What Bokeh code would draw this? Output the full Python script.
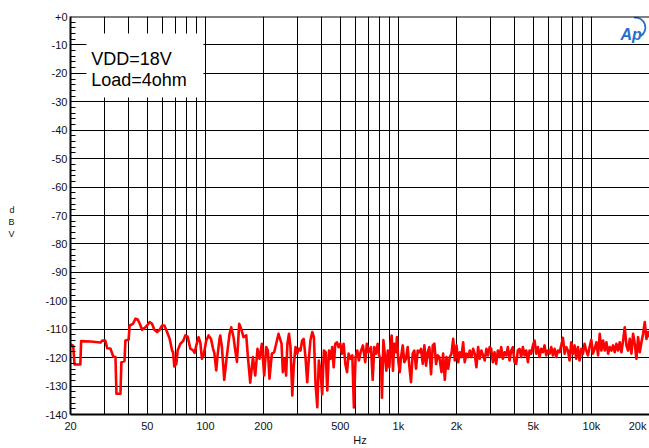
from bokeh.plotting import figure
from bokeh.models import FixedTicker, BoxAnnotation, Label, Span, Range1d
from bokeh.embed import file_html
from bokeh.resources import INLINE

# ---------------- data ----------------
freq_hz = [
    20.0, 20.65, 20.98, 22.5, 22.7, 25.4, 28.6, 29.2, 30.3, 31.0, 32.2, 33.3, 34.2, 34.6, 36.3,
    36.7, 38.1, 38.5, 40.0, 40.5, 42.2, 43.4, 44.6, 45.7, 47.0, 48.3, 49.9, 51.4, 52.9, 54.4,
    56.2, 57.9, 59.6, 61.3, 63.3, 65.3, 67.2, 68.0, 69.0, 70.7, 71.8, 74.2, 76.6, 78.7, 80.9,
    83.5, 86.3, 87.9, 89.7, 92.2, 94.1, 96.0, 97.9, 101.0, 103.9, 106.9, 109.5, 111.2, 113.8,
    115.6, 118.4,
    119.4, 121.8, 125.2, 129.3, 133.4, 136.1, 139.9, 142.8, 145.7, 149.7, 153.3, 157.6, 162.8,
    166.1, 170.7, 176.3, 181.2, 186.2, 190.7, 196.2, 201.7, 206.5, 210.8, 214.8, 221.0, 227.2,
    232.7, 239.2,
    248, 252, 258, 262, 266, 271, 276, 282, 287, 293, 299, 305, 311, 317, 323, 330, 337, 343,
    350, 358, 365, 372, 380, 387, 395, 403, 411, 420, 428, 437, 445, 454, 462, 471, 481, 490,
    500, 510, 520, 531, 542, 552, 565, 577, 588, 600, 612, 624, 637, 655, 673, 686, 700, 721,
    736, 750, 766, 781, 795, 812, 822, 836, 852, 866, 881, 898, 910, 923, 937, 952, 972, 983,
    1000, 1016, 1032, 1053, 1073, 1095, 1117, 1139, 1162, 1186, 1209, 1234, 1259, 1284, 1310,
    1337, 1363, 1391, 1419, 1447, 1476, 1507, 1536, 1567, 1599, 1630, 1672, 1705, 1739, 1774,
    1811, 1846, 1884, 1922, 1960, 2000, 2041, 2079, 2122, 2165, 2206, 2252, 2298, 2342, 2390,
    2439, 2485, 2536, 2588, 2638, 2692, 2747, 2800, 2857, 2915, 2971,
    3025, 3086, 3148, 3211, 3276, 3342, 3409, 3477, 3547, 3618, 3691, 3765, 3841, 3918, 3997,
    4077, 4159, 4243, 4328, 4415, 4504, 4595, 4687, 4781, 4877, 4975, 5075, 5177, 5281, 5387,
    5496, 5606, 5719, 5834, 5951, 6071, 6193, 6317, 6444, 6574, 6706, 6841, 6978, 7119, 7262,
    7408, 7556, 7708, 7863, 8021, 8182, 8347, 8515, 8686, 8860, 9038, 9220, 9405, 9594, 9787,
    9984, 10184, 10389,
    10614, 10827, 11045, 11267, 11494, 11725, 11961, 12201, 12446, 12696, 12951, 13211, 13477,
    13748, 14024, 14306, 14593, 14886, 15185, 15490, 15801, 16119, 16443, 16773, 17110, 17454,
    17805, 18163, 18528, 18900, 19280, 19667, 20000,
]

level_dbv = [
    -115.4, -115.8, -122.4, -122.4, -114.2, -114.3, -114.7, -114.0, -114.0, -116.7, -116.8, -119.6, -119.8, -132.7, -132.7,
    -121.6, -121.2, -114.0, -113.7, -108.7, -108.1, -106.3, -106.6, -108.1, -110.2, -109.6, -108.7, -107.5, -108.1, -110.2,
    -111.0, -110.2, -108.7, -108.7, -111.0, -113.4, -117.5, -118.1, -123.1, -122.2, -117.5, -115.1, -114.2, -112.2, -112.6,
    -116.8, -117.4, -118.3, -115.7, -112.8, -114.6, -120.4, -119.2, -114.0, -112.2, -113.4, -116.8, -118.3, -124.5,
    -119.2, -113.4,
    -112.2, -116.3, -127.8, -119.2, -111.6, -109.3, -112.8, -117.5, -121.5, -108.1, -109.9, -112.8, -112.2,
    -119.8, -128.8, -119.8, -126.3, -116.9, -120.4, -115.1, -126.3, -116.3, -117.5, -127.4, -118.6, -118.1,
    -115.1, -111.6,
    -115.1, -125.1, -120.4, -126.3, -115.1, -111.6, -116.3, -133.3, -122.8, -116.3, -118.6, -116.9, -117.5, -114.0, -113.4, -119.8, -128.6, -121.0,
    -114.0, -111.0, -112.8, -129.1, -137.4, -121.0, -125.1, -132.9, -117.5, -118.1, -131.5, -117.5, -120.4, -116.3, -123.4, -115.1, -114.6, -116.3,
    -115.1, -118.6, -115.1, -122.2, -125.1, -118.6, -120.4, -119.2, -137.5, -119.8, -117.5, -121.0, -118.1, -115.7, -121.6, -115.1, -118.1, -116.3,
    -127.8, -116.3, -118.6, -115.1, -119.2, -121.0, -134.1, -113.8, -119.5, -124.6, -117.5, -123.4, -115.1, -112.2, -124.6, -115.1, -118.1, -112.8,
    -121.6, -125.1, -119.8, -115.7, -121.6, -120.4, -116.3, -122.8, -128.6, -118.6, -117.5, -123.9, -117.5, -118.1, -116.9,
    -122.2, -115.7, -122.8, -118.1, -116.3, -125.8, -115.7, -115.1, -122.2, -119.2, -119.8, -125.1, -118.6, -127.8, -119.8,
    -123.9, -119.8, -118.6, -113.4, -121.0, -115.7, -121.6, -118.1, -119.8, -114.6, -121.6, -118.6, -119.8, -117.5, -119.8,
    -116.9, -118.6, -123.4, -116.3, -120.4, -117.5, -119.2, -121.0, -116.9, -119.2, -116.3,
    -116.9, -121.6, -118.1, -122.2, -117.5, -119.8, -116.3, -120.4, -118.1, -119.2, -116.3, -121.0, -117.5, -116.3, -121.6,
    -122.2, -117.5, -116.9, -119.8, -116.3, -119.2, -117.5, -121.6, -117.5, -118.6, -115.7, -114.0, -118.6, -116.3, -119.8,
    -116.9, -118.1, -115.7, -119.2, -117.5, -118.6, -116.3, -119.2, -116.9, -119.8, -117.5, -118.1, -115.7, -113.0, -118.6,
    -116.3, -117.5, -121.0, -114.6, -118.6, -115.7, -120.4, -116.3, -121.0, -116.9, -118.6, -115.1, -117.5, -119.2, -116.3,
    -113.7, -118.6, -116.9,
    -114.6, -119.2, -111.6, -117.5, -114.0, -117.5, -114.6, -118.6, -116.3, -117.5, -115.7, -118.1, -115.1,
    -117.5, -114.6, -118.1, -114.0, -109.3, -115.7, -117.5, -113.4, -118.6, -111.6, -115.1, -120.4, -112.8,
    -118.1, -114.6, -111.6, -107.5, -113.4, -111.0, -112.8,
]

y_ticks = [0, -10, -20, -30, -40, -50, -60, -70, -80, -90, -100, -110, -120, -130, -140]
y_tick_labels = ["+0", "-10", "-20", "-30", "-40", "-50", "-60", "-70", "-80", "-90",
                 "-100", "-110", "-120", "-130", "-140"]
x_grid = [20, 30, 40, 50, 60, 70, 80, 90, 100, 200, 300, 400, 500, 600, 700, 800, 900,
          1000, 2000, 3000, 4000, 5000, 6000, 7000, 8000, 9000, 10000, 20000]
x_tick_values = [20, 50, 100, 200, 500, 1000, 2000, 5000, 10000, 20000]
x_tick_labels = ["20", "50", "100", "200", "500", "1k", "2k", "5k", "10k", "20k"]
annot_lines = ["VDD=18V", "Load=4ohm"]
x_title = "Hz"
y_title = "\nd\nB\nV"

FONT = "Liberation Sans"

p = figure(width=649, height=448, x_axis_type="log",
           x_range=Range1d(20, 20000), y_range=Range1d(-140, 0),
           output_backend="svg", toolbar_location=None,
           min_border_left=70, min_border_right=0, min_border_top=16, min_border_bottom=34)
p.background_fill_color = "white"
p.border_fill_color = "white"
p.outline_line_color = None

# x axis
p.xaxis.ticker = FixedTicker(ticks=x_grid)
xo = {t: "" for t in x_grid}
for t, lab in zip(x_tick_values, x_tick_labels):
    xo[t] = lab
# last label sits against the right edge: pad it so it stays inside the window
xo[20000] = x_tick_labels[-1] + "\u00a0"
p.xaxis.major_label_overrides = xo
p.xaxis.major_tick_in = 0
p.xaxis.major_tick_out = 0
p.xaxis.minor_tick_in = 0
p.xaxis.minor_tick_out = 0
p.xaxis.axis_line_width = 2
p.xaxis.axis_line_color = "black"
p.xaxis.major_label_standoff = 5
p.xaxis.axis_label = x_title
p.xaxis.axis_label_standoff = -1
p.xaxis.axis_label_text_font = FONT
p.xaxis.axis_label_text_font_size = "11px"
p.xaxis.axis_label_text_font_style = "normal"
p.xaxis.axis_label_text_color = "#111111"

# y axis
minor = [v for v in range(-140, 1, 2) if v % 10 != 0]
p.yaxis.ticker = FixedTicker(ticks=y_ticks, minor_ticks=minor)
p.yaxis.major_label_overrides = {t: lab for t, lab in zip(y_ticks, y_tick_labels)}
p.yaxis.major_tick_in = 0
p.yaxis.major_tick_out = 0
p.yaxis.minor_tick_in = 5
p.yaxis.minor_tick_out = 0
p.yaxis.minor_tick_line_color = "black"
p.yaxis.axis_line_width = 2
p.yaxis.axis_line_color = "black"
p.yaxis.major_label_standoff = 3
p.yaxis.axis_label = y_title
p.yaxis.axis_label_orientation = "horizontal"
p.yaxis.axis_label_standoff = 28
p.yaxis.axis_label_text_font = FONT
p.yaxis.axis_label_text_font_size = "9px"
p.yaxis.axis_label_text_font_style = "normal"
p.yaxis.axis_label_text_color = "#111111"

for ax in (p.xaxis, p.yaxis):
    ax.major_label_text_font = FONT
    ax.major_label_text_font_size = "11px"
    ax.major_label_text_color = "#111111"

p.xgrid.grid_line_color = "black"
p.ygrid.grid_line_color = "black"
p.xgrid.grid_line_width = 1
p.ygrid.grid_line_width = 1

# top border
p.add_layout(Span(location=0, dimension="width", line_color="black", line_width=2))

# curve
p.line(freq_hz, level_dbv, line_color="#ff0000", line_width=2.6, line_join="round")

# annotation box
p.add_layout(BoxAnnotation(left=24.2, right=97.6, top=-6.0, bottom=-28.5,
                           fill_color="white", fill_alpha=1.0, line_color=None))
p.add_layout(Label(x=25.6, y=-15.0, text=annot_lines[0], text_font=FONT,
                   text_font_size="18px", text_color="black", text_baseline="alphabetic"))
p.add_layout(Label(x=25.6, y=-22.4, text=annot_lines[1], text_font=FONT,
                   text_font_size="18px", text_color="black", text_baseline="alphabetic"))

# Ap logo
p.add_layout(Label(x=14150, y=-6.3, text="Ap", text_font=FONT, text_font_style="bold italic",
                   text_font_size="16px", text_color="#2471c8", text_baseline="alphabetic"))
p.arc(x=[16900], y=[-3.9], radius=10, radius_units="screen", start_angle=-1.05,
      end_angle=1.7, line_color="#2471c8", line_width=1.8)

open("out.html", "w").write(file_html(p, INLINE))
